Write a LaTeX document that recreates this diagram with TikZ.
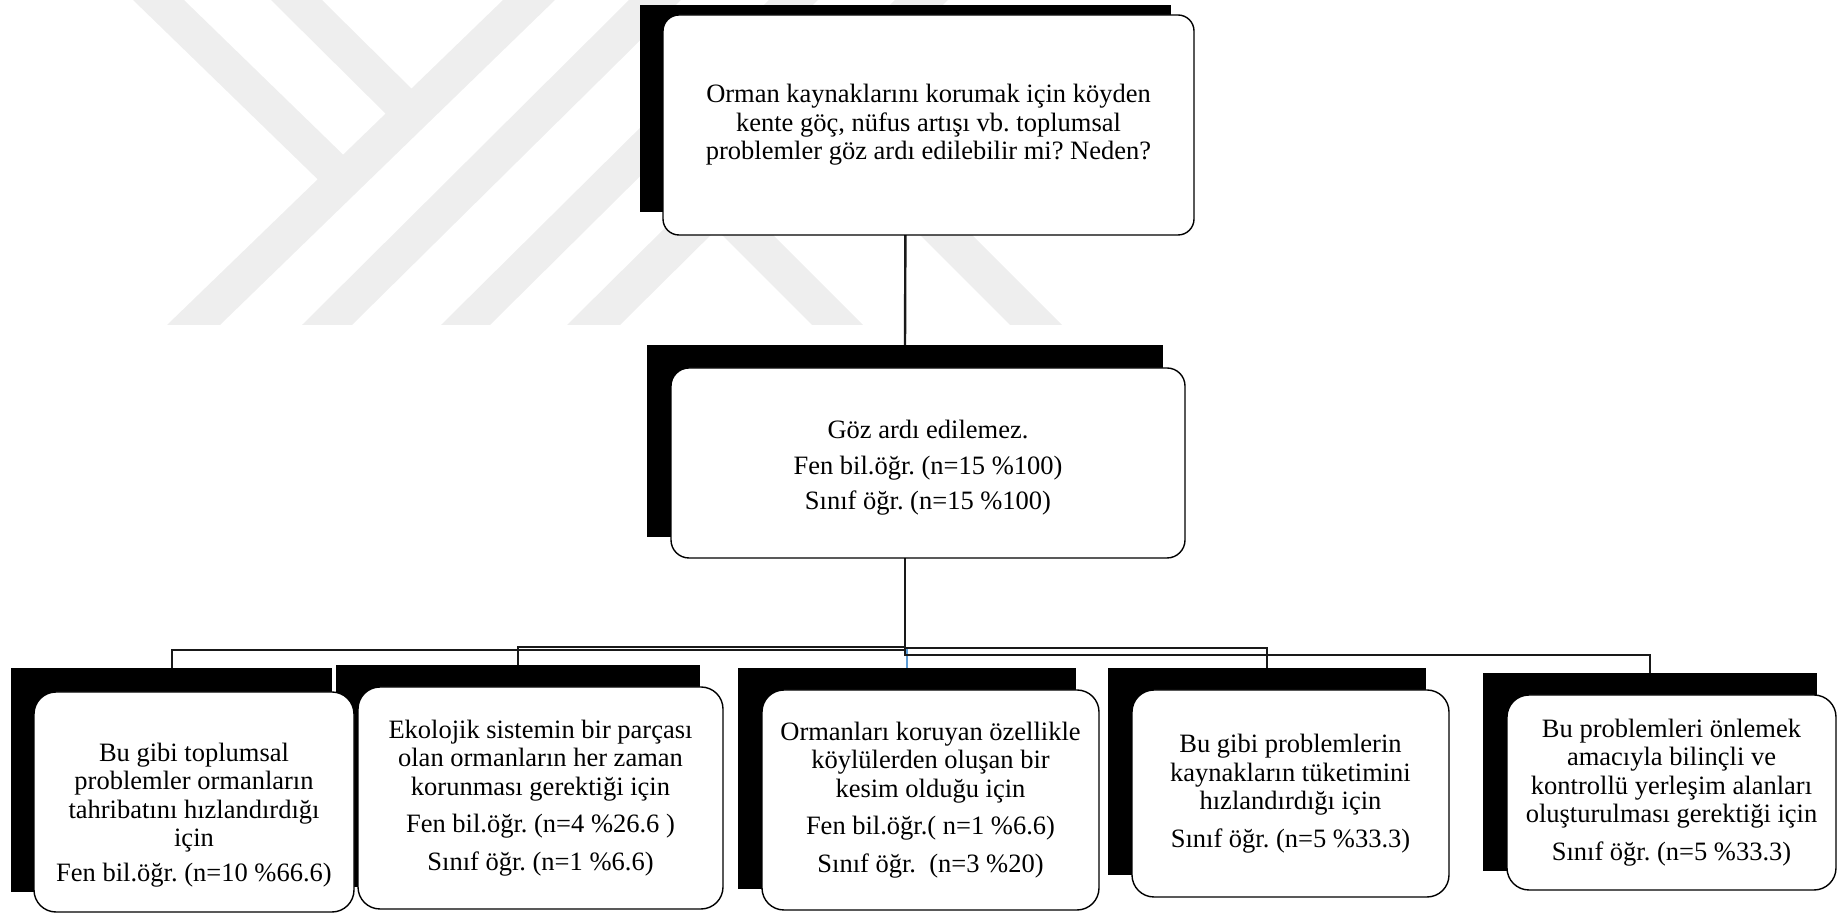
\documentclass[tikz,border=0pt]{standalone}
\usepackage{fontspec}
\setmainfont{Liberation Serif}
\usetikzlibrary{calc}
\frenchspacing

\definecolor{wmgray}{HTML}{EEEEEE}
\definecolor{linkblue}{HTML}{5B9BD5}

\begin{document}
\begin{tikzpicture}[x=0.5pt,y=-0.5pt,
  shadowbox/.style={fill=black, draw=none, inner sep=0pt, outer sep=0pt},
  card/.style={draw=black, line width=0.7pt, fill=white, inner sep=0pt,
    outer sep=0pt, align=center,
    font=\fontsize{13.25pt}{14.25pt}\selectfont},
  topcard/.style={card, rounded corners=8pt},
  leafcard/.style={card, rounded corners=11pt},
  link/.style={draw=black!90, line width=1pt},
  bluelink/.style={draw=linkblue, line width=1pt},
]
\useasboundingbox (0,0) rectangle (1838,913);

% faint logo in the background
\fill[wmgray] (133,0) -- (184,0) -- (361,172) -- (339,200) -- cycle;
\fill[wmgray] (271,0) -- (322,0) -- (423,100) -- (402,130) -- cycle;
\fill[wmgray] (503,0) -- (555,0) -- (220,325) -- (167,325) -- cycle;
\fill[wmgray] (629,0) -- (681,0) -- (352,325) -- (302,325) -- cycle;
\fill[wmgray] (769,0) -- (818,0) -- (490,325) -- (441,325) -- cycle;
\fill[wmgray] (895,0) -- (948,0) -- (620,325) -- (567,325) -- cycle;
\fill[wmgray] (699,212) -- (750,212) -- (863,325) -- (812,325) -- cycle;
\fill[wmgray] (897,212) -- (949,212) -- (1062,325) -- (1010,325) -- cycle;

% black offset panels behind the boxes
\node[shadowbox, minimum width=265.5pt, minimum height=103.5pt] (ts) at (905.5,108.5) {};
\node[shadowbox, minimum width=258pt, minimum height=96pt] (ms) at (905,441) {};
\node[shadowbox, minimum width=160.5pt, minimum height=112pt] (s1) at (171.5,780) {};
\node[shadowbox, minimum width=182pt, minimum height=111pt] (s2) at (518,776) {};
\node[shadowbox, minimum width=169pt, minimum height=110.5pt] (s3) at (907,778.5) {};
\node[shadowbox, minimum width=159pt, minimum height=103.5pt] (s4) at (1267,771.5) {};
\node[shadowbox, minimum width=167pt, minimum height=99pt] (s5) at (1650,772) {};

% connectors
\draw[link, line width=1.2pt] (ts.south) -- (ms.north);
\coordinate (j3) at ($(s3.north)+(0,-20)$);
\draw[bluelink] (j3) -- (s3.north);
\draw[link] (ms.south) |- ($(s1.north)+(0,-18)$) -- (s1.north);
\draw[link] (ms.south) |- ($(s2.north)+(0,-18)$) -- (s2.north);
\draw[link] (ms.south) |- ($(s4.north)+(0,-19.5)$) -- (s4.north);
\draw[link] (ms.south) |- ($(s5.north)+(0,-18)$) -- (s5.north);

% boxes
\node[topcard, minimum width=265.5pt, minimum height=110pt] (q) at (928.5,125)
  {Orman kaynaklarını korumak için köyden\\
   kente göç, nüfus artışı vb. toplumsal\\
   problemler göz ardı edilebilir mi? Neden?};

\node[topcard, rounded corners=9pt, minimum width=257pt, minimum height=95pt] (a) at (928,463)
  {\rule{0pt}{14pt}Göz ardı edilemez.\\[3.6pt]
   Fen bil.öğr. (n=15 \%100)\\[3.6pt]
   Sınıf öğr. (n=15 \%100)};

\node[leafcard, minimum width=160pt, minimum height=110pt] (r1) at (194,802)
  {\rule{0pt}{22pt}Bu gibi toplumsal\\
   problemler ormanların\\
   tahribatını hızlandırdığı\\
   için\\[3pt]
   Fen bil.öğr. (n=10 \%66.6)};

\node[leafcard, minimum width=182.5pt, minimum height=111pt] (r2) at (540.5,798)
  {Ekolojik sistemin bir parçası\\
   olan ormanların her zaman\\
   korunması gerektiği için\\[4.5pt]
   Fen bil.öğr. (n=4 \%26.6 )\\[4.5pt]
   Sınıf öğr. (n=1 \%6.6)};

\node[leafcard, minimum width=168.5pt, minimum height=110pt] (r3) at (930.5,800)
  {Ormanları koruyan özellikle\\
   köylülerden oluşan bir\\
   kesim olduğu için\\[4.5pt]
   Fen bil.öğr.( n=1 \%6.6)\\[4.5pt]
   Sınıf öğr.\ \ (n=3 \%20)};

\node[leafcard, minimum width=158.5pt, minimum height=103.5pt] (r4) at (1290.5,793.5)
  {Bu gibi problemlerin\\
   kaynakların tüketimini\\
   hızlandırdığı için\\[4.5pt]
   Sınıf öğr. (n=5 \%33.3)};

\node[leafcard, minimum width=164.5pt, minimum height=97.5pt] (r5) at (1671.5,792.5)
  {Bu problemleri önlemek\\
   amacıyla bilinçli ve\\
   kontrollü yerleşim alanları\\
   oluşturulması gerektiği için\\[4.5pt]
   Sınıf öğr. (n=5 \%33.3)};
\end{tikzpicture}
\end{document}
